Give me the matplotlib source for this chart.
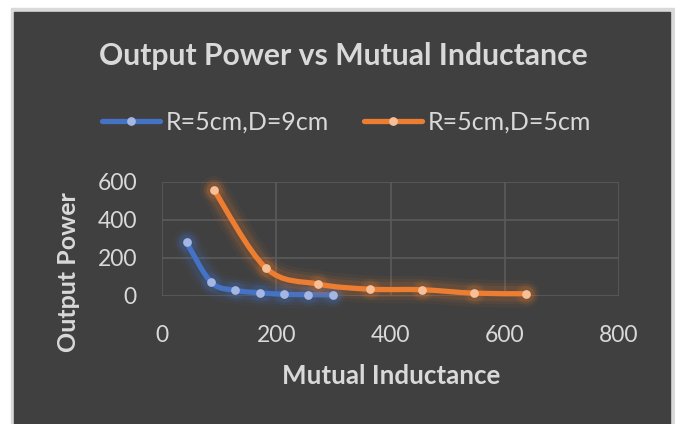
import matplotlib
matplotlib.use("Agg")
import matplotlib.pyplot as plt
from matplotlib.path import Path
from matplotlib.patches import PathPatch, Rectangle
import matplotlib.patheffects as pe

plt.rcParams['font.family'] = ['Lato', 'DejaVu Sans']

# values
mutual_9cm = [43, 86, 128, 171, 214, 256, 299]
power_9cm = [282, 73, 30, 17, 9, 7, 6]
mutual_5cm = [91, 182, 273, 364, 455, 546, 637]
power_5cm = [558, 147, 63, 36, 33, 15, 12]
series_names = ['R=5cm,D=9cm', 'R=5cm,D=5cm']
x_ticks = [0, 200, 400, 600, 800]
y_ticks = [0, 200, 400, 600]

BG = '#404040'
TXT = '#d9d9d9'
GRID = '#595959'
BLUE, BLUE_M = '#4472c4', '#a4b6e4'
ORANGE, ORANGE_M = '#ed7d31', '#f6bf97'


def smooth_path(xs, ys):
    # excel style smoothed line: catmull-rom as cubic bezier
    pts = list(zip(xs, ys))
    verts = [pts[0]]
    codes = [Path.MOVETO]
    n = len(pts)
    for i in range(n - 1):
        p0 = pts[i - 1] if i > 0 else pts[i]
        p1 = pts[i]
        p2 = pts[i + 1]
        p3 = pts[i + 2] if i + 2 < n else pts[i + 1]
        c1 = (p1[0] + (p2[0] - p0[0]) / 6, p1[1] + (p2[1] - p0[1]) / 6)
        c2 = (p2[0] - (p3[0] - p1[0]) / 6, p2[1] - (p3[1] - p1[1]) / 6)
        verts += [c1, c2, p2]
        codes += [Path.CURVE4] * 3
    return Path(verts, codes)


def glow(color):
    fx = []
    for w, a in [(20, 0.05), (15, 0.08), (11, 0.12)]:
        fx.append(pe.Stroke(linewidth=w, foreground=color, alpha=a))
    fx.append(pe.Normal())
    return fx


def main():
    fig = plt.figure(figsize=(6.75, 4.24), dpi=100, facecolor='white')
    fig.add_artist(Rectangle((11 / 675, 0), 664 / 675, 416 / 424,
                             transform=fig.transFigure, color='#d9d9d9', zorder=-3))
    fig.add_artist(Rectangle((14 / 675, 0), 656 / 675, 412 / 424,
                             transform=fig.transFigure, color=BG, zorder=-2))

    ax = fig.add_axes([162 / 675, 1 - 296 / 424, 457 / 675, 114 / 424])
    ax.set_facecolor('none')
    ax.set_xlim(0, 800)
    ax.set_ylim(0, 600)
    ax.set_xticks(x_ticks)
    ax.set_yticks(y_ticks)
    for s in ax.spines.values():
        s.set_visible(False)
    ax.grid(True, color=GRID, linewidth=1.3)
    ax.set_axisbelow(True)
    ax.tick_params(length=0, colors=TXT, labelsize=16.5)
    ax.tick_params(axis='x', pad=21)
    ax.tick_params(axis='y', pad=18)

    handles = []
    for xs, ys, c, mc, name in [(mutual_9cm, power_9cm, BLUE, BLUE_M, series_names[0]),
                                (mutual_5cm, power_5cm, ORANGE, ORANGE_M, series_names[1])]:
        patch = PathPatch(smooth_path(xs, ys), fill=False, edgecolor=c, linewidth=3.8,
                          capstyle='round', joinstyle='round', clip_on=False, zorder=3,
                          path_effects=glow(c))
        ax.add_patch(patch)
        for ms, a in [(16, 0.08), (12, 0.12)]:
            ax.plot(xs, ys, 'o', color=c, markersize=ms, alpha=a, markeredgewidth=0,
                    clip_on=False, zorder=3)
        ax.plot(xs, ys, 'o', color=mc, markersize=6.3, markeredgewidth=0,
                clip_on=False, zorder=4)
        h, = ax.plot([], [], '-', color=c, linewidth=3.8, marker='o', markersize=6.3,
                     markerfacecolor=mc, markeredgewidth=0, solid_capstyle='round',
                     label=name)
        handles.append(h)

    fig.text(343 / 675, 1 - 56 / 424, 'Output Power vs Mutual Inductance', color=TXT,
             fontsize=21.7, fontweight='bold', ha='center', va='center')
    fig.text(69 / 675, 1 - 272 / 424, 'Output Power', color=TXT, fontsize=18,
             fontweight='bold', rotation=90, ha='center', va='center')
    fig.text(391 / 675, 1 - 376 / 424, 'Mutual Inductance', color=TXT, fontsize=18.7,
             fontweight='bold', ha='center', va='center')

    fig.legend(handles=handles, loc='center', bbox_to_anchor=(347 / 675, 1 - 122 / 424),
               ncol=2, frameon=False, fontsize=18, handlelength=2.3,
               handletextpad=0.25, columnspacing=1.4, labelcolor=TXT)

    fig.savefig('out.png', dpi=100, facecolor='white')


if __name__ == '__main__':
    main()
